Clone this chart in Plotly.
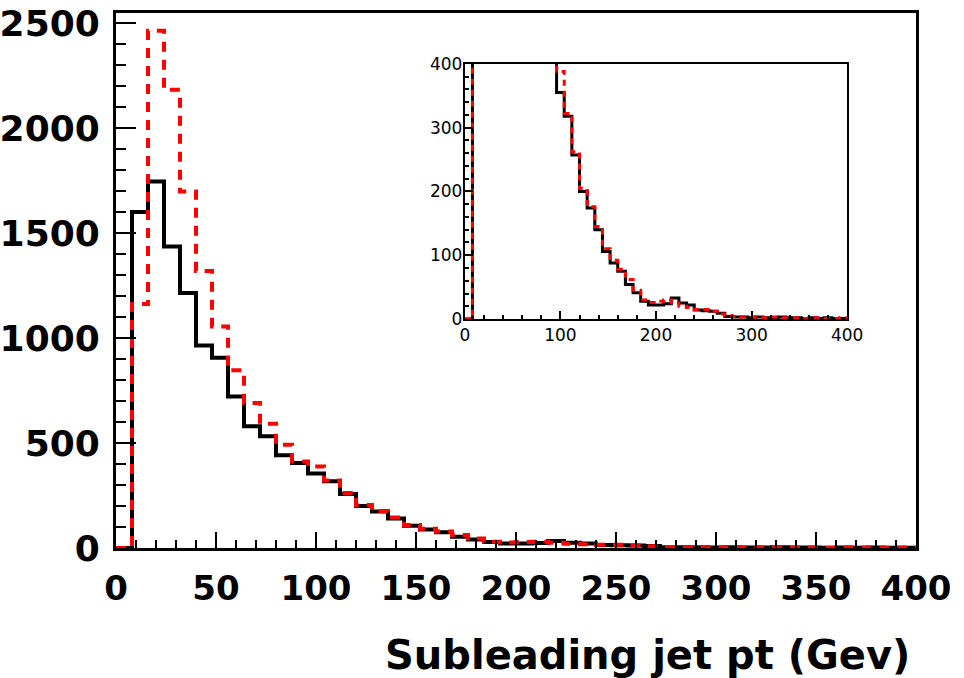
import plotly.graph_objects as go

# Histogram data: 50 bins of width 8 GeV from 0 to 400
bin_edges = [8 * i for i in range(51)]
black_counts = [0, 1600, 1745, 1436, 1214, 965, 906, 722, 580, 532,
                442, 405, 355, 318, 257, 200, 174, 140, 106, 88,
                75, 54, 41, 28, 22, 22, 24, 33, 25, 22,
                14, 13, 12, 9, 4, 3, 3, 2, 3, 2,
                2, 3, 2, 2, 1, 2, 1, 2, 1, 1]
red_counts = [0, 1162, 2463, 2182, 1698, 1319, 1055, 846, 690, 592,
              492, 412, 388, 322, 262, 205, 176, 145, 110, 92,
              78, 62, 45, 30, 26, 28, 30, 25, 20, 18,
              15, 15, 12, 8, 5, 4, 3, 3, 2, 2,
              3, 2, 2, 2, 1, 2, 2, 1, 1, 2]
main_x_ticks = [0, 50, 100, 150, 200, 250, 300, 350, 400]
main_y_ticks = [0, 500, 1000, 1500, 2000, 2500]
inset_ticks = [0, 100, 200, 300, 400]
x_title = "Subleading jet pt (Gev)"

FONT = "DejaVu Sans"

def step_y(vals):
    return list(vals) + [vals[-1]]

fig = go.Figure()

# main histograms
fig.add_trace(go.Scatter(x=bin_edges, y=step_y(black_counts), mode="lines",
                         line=dict(shape="hv", color="black", width=4),
                         xaxis="x", yaxis="y", showlegend=False))
fig.add_trace(go.Scatter(x=bin_edges, y=step_y(red_counts), mode="lines",
                         line=dict(shape="hv", color="#ff0000", width=4, dash="10px,8px"),
                         xaxis="x", yaxis="y", showlegend=False))
# inset histograms
fig.add_trace(go.Scatter(x=bin_edges, y=step_y(black_counts), mode="lines",
                         line=dict(shape="hv", color="black", width=3),
                         xaxis="x2", yaxis="y2", showlegend=False))
fig.add_trace(go.Scatter(x=bin_edges, y=step_y(red_counts), mode="lines",
                         line=dict(shape="hv", color="#ff0000", width=3, dash="6px,5px"),
                         xaxis="x2", yaxis="y2", showlegend=False))

axis_common = dict(showgrid=False, zeroline=False, showline=True, mirror=True,
                   linecolor="black", ticks="inside", tickcolor="black",
                   automargin=False)

fig.update_layout(
    width=964, height=678,
    margin=dict(l=116, r=48, t=13, b=130),
    paper_bgcolor="white", plot_bgcolor="white",
    xaxis=dict(**axis_common, range=[0, 400], domain=[0, 1], anchor="y",
               tickvals=main_x_ticks, ticklen=16, tickwidth=2, linewidth=3,
               minor=dict(ticks="inside", ticklen=8, dtick=10, tickwidth=2, tickcolor="black"),
               tickfont=dict(family=FONT, size=34, color="black", weight="bold"),
               ticklabelstandoff=8),
    yaxis=dict(**axis_common, range=[0, 2548], domain=[0, 1], anchor="x",
               tickvals=main_y_ticks, ticklen=20, tickwidth=2, linewidth=3,
               minor=dict(ticks="inside", ticklen=10, dtick=100, tickwidth=2, tickcolor="black"),
               tickfont=dict(family=FONT, size=36, color="black", weight="bold"),
               ticklabelstandoff=6),
    xaxis2=dict(**axis_common, range=[0, 400], domain=[0.436, 0.914], anchor="y2",
                tickvals=inset_ticks, ticklen=8, tickwidth=1.5, linewidth=2,
                minor=dict(ticks="inside", ticklen=4, dtick=20, tickwidth=1.5, tickcolor="black"),
                tickfont=dict(family=FONT, size=17, color="black"),
                ticklabelstandoff=0),
    yaxis2=dict(**axis_common, range=[0, 400], domain=[0.428, 0.905], anchor="x2",
                tickvals=inset_ticks, ticklen=8, tickwidth=1.5, linewidth=2,
                minor=dict(ticks="inside", ticklen=4, dtick=20, tickwidth=1.5, tickcolor="black"),
                tickfont=dict(family=FONT, size=17, color="black"),
                ticklabelstandoff=-3),
    annotations=[dict(text=x_title, xref="paper", yref="paper", x=0.995, y=-0.2,
                      xanchor="right", yanchor="middle", showarrow=False,
                      font=dict(family=FONT, size=40, color="black", weight="bold"))],
)

fig.write_html("out.html")
